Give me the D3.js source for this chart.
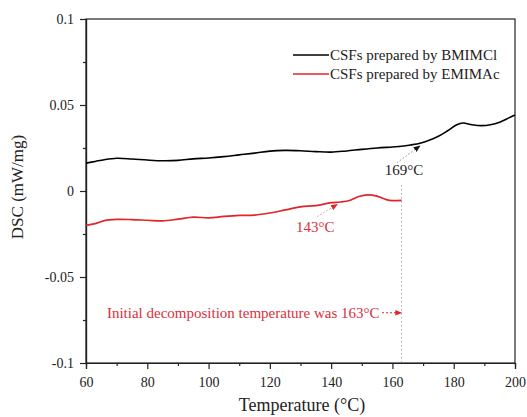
<!DOCTYPE html>
<html><head><meta charset="utf-8">
<script src="https://cdn.jsdelivr.net/npm/d3@7"></script>
<style>body{margin:0;background:#fff}svg{display:block}text{font-family:"Liberation Serif","Times New Roman",serif}</style>
</head><body><svg id="c" width="527" height="417"></svg>
<script>
const bmimT = [60,63,66,70,75,80,85,90,95,100,105,110,115,120,125,130,135,140,145,150,155,160,163,166,169,172,175,178,181,183,186,189,192,195,198,200];
const bmimV = [0.0162,0.0172,0.0182,0.0190,0.0186,0.0180,0.0176,0.0178,0.0187,0.0192,0.0200,0.0210,0.0220,0.0232,0.0236,0.0234,0.0229,0.0226,0.0233,0.0242,0.0250,0.0256,0.0260,0.0268,0.0278,0.0295,0.0318,0.0350,0.0385,0.0395,0.0385,0.0380,0.0385,0.0400,0.0425,0.0442];
const emimT = [60,63,66,70,75,80,85,90,95,100,105,110,115,120,125,130,135,140,143,146,149,152,155,158,160,163];
const emimV = [-0.0200,-0.0190,-0.0172,-0.0165,-0.0166,-0.0170,-0.0174,-0.0164,-0.0152,-0.0156,-0.0148,-0.0142,-0.0140,-0.0128,-0.0110,-0.0092,-0.0085,-0.0068,-0.0064,-0.0055,-0.0032,-0.0022,-0.0030,-0.0050,-0.0056,-0.0054];
const xTicks = [60,80,100,120,140,160,180,200];
const yTicks = [-0.1,-0.05,0,0.05,0.1];
const yTickLabels = ["-0.1","-0.05","0","0.05","0.1"];
const legendLabels = ["CSFs prepared by BMIMCl","CSFs prepared by EMIMAc"];
const colors = ["#000000","#e0262a"];
const annoRed = "#d8303c";

const svg = d3.select("#c");
const L=86,R=515,T=19,B=363;
const x = d3.scaleLinear().domain([60,200]).range([L,R]);
const y = d3.scaleLinear().domain([-0.1,0.1]).range([B,T]);

// frame
svg.append("rect").attr("x",L).attr("y",T).attr("width",R-L).attr("height",B-T).attr("fill","none").attr("stroke","#222").attr("stroke-width",1.2);

// axes
const xMinor = d3.range(70,200,20);
const yMinor = [-0.075,-0.025,0.025,0.075];
svg.append("g").attr("transform",`translate(0,${B})`)
  .call(d3.axisBottom(x).tickValues(xTicks).tickSize(6).tickPadding(8).tickFormat(d3.format("d")));
svg.append("g").attr("transform",`translate(0,${B})`).call(d3.axisBottom(x).tickValues(xMinor).tickSize(3).tickFormat(""));
svg.append("g").attr("transform",`translate(${L},0)`)
  .call(d3.axisLeft(y).tickValues(yTicks).tickSize(6).tickPadding(6).tickFormat((d,i)=>yTickLabels[i]));
svg.append("g").attr("transform",`translate(${L},0)`).call(d3.axisLeft(y).tickValues(yMinor).tickSize(3).tickFormat(""));
svg.selectAll(".domain").attr("stroke","#222").attr("stroke-width",1.2);
svg.selectAll(".tick line").attr("stroke","#222").attr("stroke-width",1.2);
svg.selectAll(".tick text").attr("font-size",14).attr("fill","#222").attr("font-family","Liberation Serif");

svg.append("text").attr("x",302).attr("y",411).attr("text-anchor","middle").attr("font-size",18).attr("fill","#222").text("Temperature (\u00B0C)");
svg.append("text").attr("transform",`translate(23,${187}) rotate(-90)`).attr("text-anchor","middle").attr("font-size",17).attr("fill","#222").text("DSC (mW/mg)");

// vertical dotted line at 163
svg.append("line").attr("x1",x(163)).attr("x2",x(163)).attr("y1",y(0.0035)).attr("y2",B).attr("stroke","#aaa").attr("stroke-width",1).attr("stroke-dasharray","1.5,2.5");

// lines
const line = d3.line().x(d=>x(d[0])).y(d=>y(d[1])).curve(d3.curveCatmullRom);
svg.append("path").datum(bmimT.map((t,i)=>[t,bmimV[i]])).attr("d",line).attr("fill","none").attr("stroke",colors[0]).attr("stroke-width",1.6);
svg.append("path").datum(emimT.map((t,i)=>[t,emimV[i]])).attr("d",line).attr("fill","none").attr("stroke",colors[1]).attr("stroke-width",1.7);

// arrow markers
const defs = svg.append("defs");
function marker(id,c){defs.append("marker").attr("id",id).attr("viewBox","0 0 10 10").attr("refX",9).attr("refY",5).attr("markerWidth",7).attr("markerHeight",7).attr("orient","auto").append("path").attr("d","M0,1L10,5L0,9Z").attr("fill",c);}
marker("ab","#111"); marker("ar",colors[1]);

// 169 annotation
svg.append("line").attr("x1",x(161.5)).attr("y1",y(0.0165)).attr("x2",x(169)).attr("y2",y(0.0262)).attr("stroke","#888").attr("stroke-width",1).attr("stroke-dasharray","1.5,2").attr("marker-end","url(#ab)");
svg.append("text").attr("x",x(163.8)).attr("y",y(0.0095)).attr("text-anchor","middle").attr("font-size",15).attr("fill","#222").text("169\u00B0C");

// 143 annotation
svg.append("line").attr("x1",x(135.5)).attr("y1",y(-0.0148)).attr("x2",x(142)).attr("y2",y(-0.0078)).attr("stroke","#e08888").attr("stroke-width",1).attr("stroke-dasharray","1.5,2").attr("marker-end","url(#ar)");
svg.append("text").attr("x",x(134.8)).attr("y",y(-0.0238)).attr("text-anchor","middle").attr("font-size",15).attr("fill",annoRed).text("143\u00B0C");

// initial decomposition
svg.append("text").attr("x",x(155.8)).attr("y",y(-0.0738)).attr("text-anchor","end").attr("font-size",15).attr("fill",annoRed).text("Initial decomposition temperature was 163\u00B0C");
svg.append("line").attr("x1",x(156.6)).attr("y1",y(-0.0708)).attr("x2",x(163)).attr("y2",y(-0.0708)).attr("stroke",colors[1]).attr("stroke-width",1).attr("stroke-dasharray","2,2").attr("marker-end","url(#ar)");

// legend
legendLabels.forEach((lab,i)=>{
  const ly = 55 + i*19;
  svg.append("line").attr("x1",293).attr("x2",329).attr("y1",ly).attr("y2",ly).attr("stroke",colors[i]).attr("stroke-width",1.6);
  svg.append("text").attr("x",330).attr("y",ly+5).attr("font-size",15).attr("fill","#222").text(lab);
});
</script></body></html>
